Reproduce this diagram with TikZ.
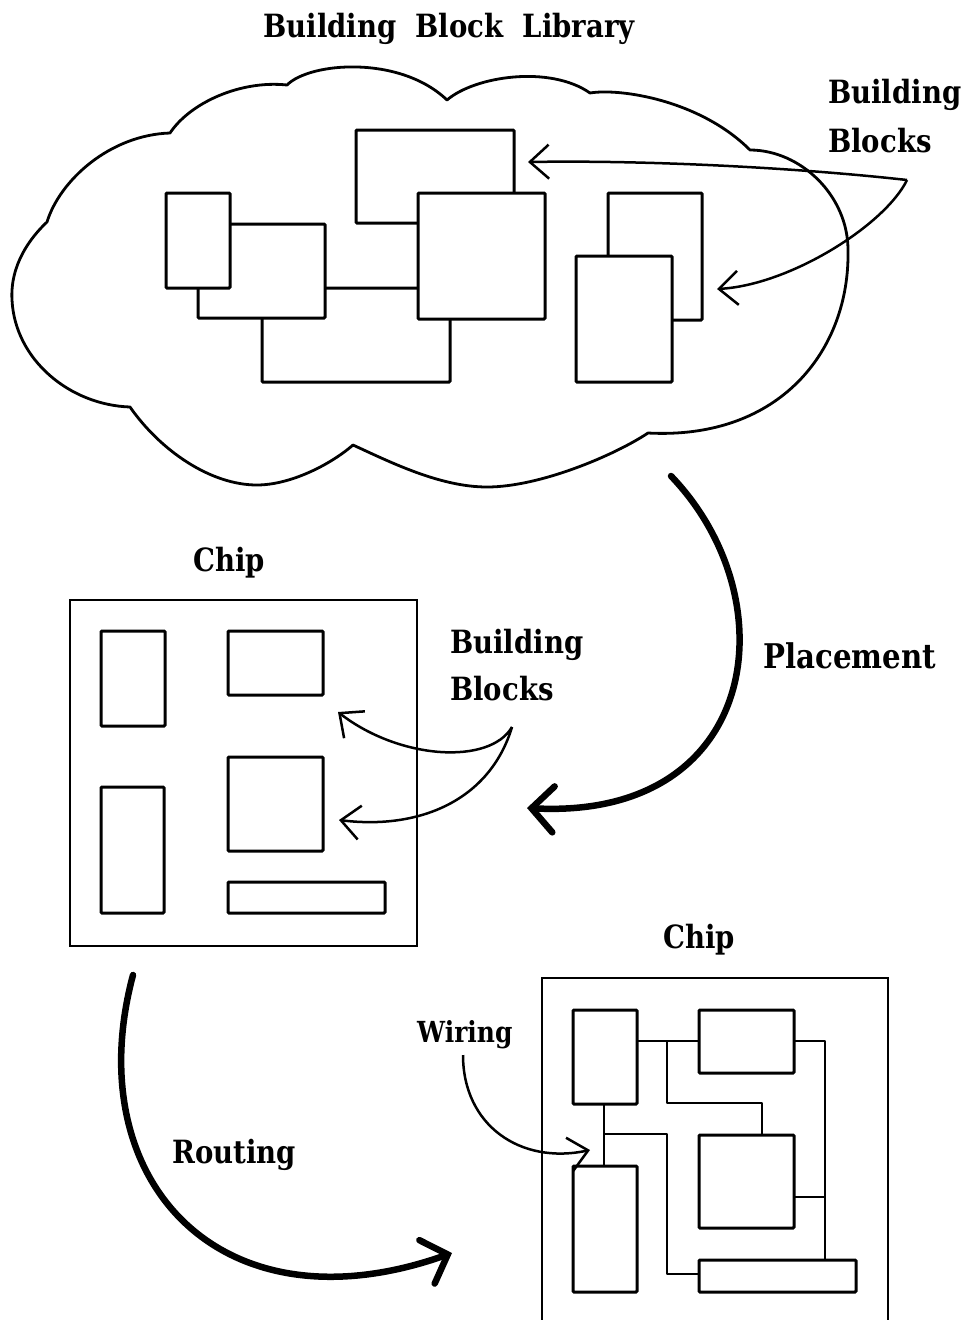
\documentclass[tikz,border=0pt]{standalone}
\usepackage{fontspec}
\newfontfamily\labfont{DejaVu Serif}[FakeStretch=0.86]
\usetikzlibrary{arrows.meta}
\tikzset{
  blk/.style={draw, line width=3pt, fill=white, inner sep=0pt, outer sep=0pt, anchor=north west, rounded corners=1pt},
  chipbox/.style={draw, line width=2.5pt, inner sep=0pt, outer sep=0pt, anchor=north west},
  cloudline/.style={line width=2.8pt, line join=round},
  wire/.style={line width=2.8pt, line join=round},
  thinarr/.style={line width=2.5pt, -{Straight Barb[length=19pt,width=34pt,line width=2.5pt]}},
  thickarr/.style={line width=6.5pt, line cap=round, -{Straight Barb[length=22pt,width=46pt,line width=6.5pt, line cap=round]}},
  lab/.style={font=\labfont\bfseries\fontsize{32}{36}\selectfont, inner sep=0pt, anchor=base west},
  ttl/.style={font=\labfont\bfseries\fontsize{32}{36}\selectfont, inner sep=0pt, anchor=base},
}
\begin{document}
\begin{tikzpicture}[x=1pt,y=-1pt]
\useasboundingbox (0,0) rectangle (968,1320);

% ---------- title
\node[ttl] (title) at (449,37) {Building\ \ Block\ \ Library};

% ---------- cloud
\draw[cloudline] (47,222)
 .. controls (60,180) and (110,135) .. (170,133)
 .. controls (190,103) and (240,80) .. (287,85)
 .. controls (310,62) and (400,55) .. (447,100)
 .. controls (475,76) and (550,65) .. (590,93)
 .. controls (620,88) and (700,100) .. (750,150)
 .. controls (800,150) and (848,195) .. (848,250)
 .. controls (850,350) and (780,440) .. (648,433)
 .. controls (615,455) and (540,487) .. (487,487)
 .. controls (440,487) and (390,462) .. (353,445)
 .. controls (330,465) and (290,485) .. (257,485)
 .. controls (210,485) and (160,450) .. (130,407)
 .. controls (70,405) and (15,360) .. (12,300)
 .. controls (10,265) and (30,238) .. cycle;

% blocks in the library
\node[blk, minimum width=188pt, minimum height=94pt] (C) at (262,288) {};
\node[blk, minimum width=127pt, minimum height=94pt] (B) at (198,224) {};
\node[blk, minimum width=64pt, minimum height=95pt] (A) at (166,193) {};
\node[blk, minimum width=158pt, minimum height=93pt] (E) at (356,130) {};
\node[blk, minimum width=127pt, minimum height=126pt] (D) at (418,193) {};
\node[blk, minimum width=94pt, minimum height=127pt] (G) at (608,193) {};
\node[blk, minimum width=96pt, minimum height=126pt] (H) at (576,256) {};

\node[lab] (bb1a) at (828,103) {Building};
\node[lab] (bb1b) at (828,152) {Blocks};
\coordinate (bbsrc) at (907,180);
\coordinate (t1) at (528,162);
\coordinate (t2) at (717,289);
\draw[thinarr] (bbsrc) .. controls (800,168) and (650,160) .. (t1);
\draw[thinarr] (bbsrc) .. controls (885,225) and (790,285) .. (t2);

% ---------- placement
\coordinate (pl0) at (671,476);
\coordinate (pl1) at (527,808);
\draw[thickarr] (pl0) .. controls (790,600) and (760,820) .. (pl1);
\node[lab, font=\labfont\bfseries\fontsize{34}{36}\selectfont] (plab) at (763,668) {Placement};

% ---------- chip 1
\node[lab] (chip1lab) at (193,571) {Chip};
\node[chipbox, minimum width=347pt, minimum height=346pt] (chip1) at (70,600) {};
\node[blk, minimum width=64pt, minimum height=95pt] (m1) at (101,631) {};
\node[blk, minimum width=95pt, minimum height=64pt] (m2) at (228,631) {};
\node[blk, minimum width=95pt, minimum height=94pt] (m3) at (228,757) {};
\node[blk, minimum width=63pt, minimum height=126pt] (m4) at (101,787) {};
\node[blk, minimum width=157pt, minimum height=31pt] (m5) at (228,882) {};

\node[lab] (bb2a) at (450,653) {Building};
\node[lab] (bb2b) at (450,700) {Blocks};
\coordinate (bb2src) at (512,727);
\coordinate (t3) at (338,712);
\coordinate (t4) at (339,820);
\draw[thinarr] (bb2src) .. controls (490,765) and (400,760) .. (t3);
\draw[thinarr] (bb2src) .. controls (490,800) and (420,830) .. (t4);

% ---------- routing
\coordinate (ro0) at (133,975);
\coordinate (ro1) at (452,1253);
\draw[thickarr] (ro0) .. controls (78,1180) and (220,1335) .. (ro1);
\node[lab] (rlab) at (172,1163) {Routing};

% ---------- chip 2
\node[lab] (chip2lab) at (663,948) {Chip};
\coordinate (c2a) at (542,1322);
\coordinate (c2b) at (542,978);
\coordinate (c2c) at (888,978);
\coordinate (c2d) at (888,1322);
\draw[line width=2.5pt] (c2a) -- (c2b) -- (c2c) -- (c2d);

\node[blk, minimum width=64pt, minimum height=94pt] (P) at (573,1010) {};
\node[blk, minimum width=95pt, minimum height=63pt] (Q) at (699,1010) {};
\node[blk, minimum width=95pt, minimum height=93pt] (R) at (699,1135) {};
\node[blk, minimum width=64pt, minimum height=126pt] (S) at (573,1166) {};
\node[blk, minimum width=157pt, minimum height=32pt] (T) at (699,1260) {};

\draw[wire] (P.east |- 0,1041) -- (Q.west |- 0,1041);
\draw[wire] (667,1041) -- (667,1103) -- (762,1103) -- (R.north -| 762,0);
\draw[wire] (Q.east |- 0,1041) -- (825,1041) -- (T.north -| 825,0);
\draw[wire] (R.east |- 0,1197) -- (825,1197);
\draw[wire] (P.south -| 604,0) -- (S.north -| 604,0);
\draw[wire] (604,1134) -- (667,1134) -- (667,1274) -- (T.west |- 0,1274);

\node[lab, font=\labfont\bfseries\fontsize{29}{36}\selectfont] (wlab) at (417,1042) {Wiring};
\coordinate (w0) at (463,1055);
\coordinate (w1) at (590,1150);
\draw[thinarr] (w0) .. controls (463,1125) and (520,1165) .. (w1);
\end{tikzpicture}
\end{document}
